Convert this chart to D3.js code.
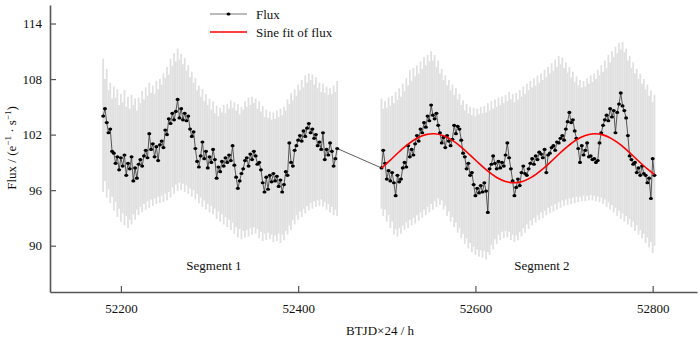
<!DOCTYPE html>
<html>
<head>
<meta charset="utf-8">
<script src="https://cdn.jsdelivr.net/npm/d3@7"></script>
<style>
  body { margin: 0; background: #fff; }
  svg text { font-family: "Liberation Serif", "DejaVu Serif", "Times New Roman", serif; fill: #111; }
</style>
</head>
<body>
<div id="chart"></div>
<script>
// sampling of the binned flux (hours, BTJD x 24)
const seg1Start = 52180, seg2Start = 52494, stepH = 2;

const seg1Flux = [104.0,104.8,103.3,102.2,102.6,100.2,100.0,98.9,99.6,98.2,99.5,98.6,99.8,97.6,98.9,98.3,99.6,97.0,98.4,97.3,
  98.8,99.3,98.6,99.7,100.3,99.5,102.1,100.4,101.0,99.6,100.7,99.2,100.9,101.3,100.6,102.5,102.0,103.7,103.2,104.3,
  103.6,104.5,105.8,103.8,104.8,103.6,104.3,103.5,104.0,102.6,101.8,102.3,100.5,99.1,98.5,99.7,101.2,99.4,100.2,98.4,
  99.6,99.0,100.4,99.3,97.3,98.5,98.0,99.1,98.6,99.5,99.0,99.8,99.2,100.8,98.7,97.4,96.2,97.0,97.8,98.3,
  99.2,99.5,98.6,99.9,99.3,100.2,99.7,98.8,99.0,98.2,96.8,95.8,97.4,96.1,97.6,96.9,97.8,97.0,97.5,96.4,
  97.1,95.8,96.6,98.0,97.6,101.1,99.0,98.6,100.3,100.8,101.4,101.9,101.3,102.4,101.8,102.7,103.2,102.2,102.6,101.6,
  102.0,100.8,101.2,100.4,102.2,99.3,100.4,99.8,101.1,100.2,98.6,99.4,100.5];

const seg2Flux = [98.4,100.3,98.9,97.2,98.1,97.0,97.9,96.8,95.4,97.6,96.9,97.2,98.4,99.0,98.5,100.8,99.6,100.4,99.8,101.0,
  101.9,101.3,102.6,102.2,103.3,102.8,104.0,103.5,105.2,104.1,103.7,104.3,103.0,102.2,101.1,101.7,100.6,101.9,101.3,100.8,
  101.5,103.0,102.1,102.9,102.6,101.4,100.0,99.6,98.3,98.9,97.6,97.9,96.6,95.4,96.2,95.7,96.5,95.8,96.8,95.9,
  93.6,98.3,98.8,99.7,98.9,98.3,99.1,98.4,99.0,98.6,99.8,101.1,99.5,98.3,97.0,95.4,96.3,97.2,96.5,97.9,
  98.6,97.8,97.6,98.3,98.9,99.4,98.8,99.7,99.3,100.1,99.9,99.5,100.4,97.9,99.8,100.0,100.6,100.8,100.3,101.2,
  101.1,101.6,101.9,101.4,102.6,103.4,104.4,103.3,103.6,102.4,101.6,100.5,99.0,100.8,99.8,100.3,101.1,99.6,99.7,99.3,
  99.4,99.0,99.2,101.1,102.2,103.0,103.6,104.1,103.5,104.8,103.9,104.6,102.2,104.4,105.3,106.5,105.1,104.6,103.8,101.9,
  99.7,99.3,98.8,99.0,97.9,98.4,97.6,98.6,97.8,97.6,96.8,97.3,95.1,99.4,97.6];

// light grey spread of the un-binned flux at each sample
const seg1Hi = [110.2,108.0,109.1,106.8,107.6,105.9,107.2,106.0,106.9,105.2,106.4,105.5,106.8,105.0,106.1,104.8,106.3,105.2,105.9,104.6,
  106.0,105.4,106.7,105.8,107.1,106.2,107.6,106.5,107.3,106.4,107.8,106.9,108.0,107.4,108.6,108.1,109.3,108.5,110.2,109.4,
  110.8,109.9,111.3,110.1,110.7,109.6,110.3,108.9,109.5,108.2,108.8,107.6,108.1,106.8,107.3,106.1,106.9,105.6,106.4,105.2,
  105.9,104.7,105.6,104.3,105.1,104.0,104.9,104.4,105.2,104.3,105.3,104.8,105.7,104.9,105.5,104.6,105.3,104.2,105.0,104.7,
  105.6,105.0,106.0,105.2,106.1,105.4,105.9,104.8,105.6,104.5,105.1,103.9,104.7,103.8,104.5,103.6,104.4,103.7,104.6,103.9,
  104.8,104.1,105.0,104.6,105.8,105.3,106.5,105.7,106.9,106.2,107.4,106.8,107.9,107.1,108.4,107.6,108.6,107.9,108.5,107.4,
  108.2,107.0,107.6,106.6,107.5,106.5,107.2,106.3,107.0,106.4,107.3,106.6,107.8];

const seg1Lo = [95.8,97.0,95.2,96.1,94.6,95.3,93.8,94.7,93.1,94.0,92.6,93.5,92.2,93.2,91.9,92.8,92.3,93.4,92.8,93.9,
  93.3,94.2,93.6,94.5,93.9,94.8,94.1,95.0,94.3,95.1,94.5,95.3,94.6,95.4,94.7,95.6,94.9,95.8,95.2,96.3,
  95.6,96.6,95.9,96.8,96.0,96.7,95.8,96.5,95.6,96.2,95.3,96.0,95.0,95.6,94.6,95.2,94.2,94.9,93.9,94.5,
  93.6,94.3,93.4,94.0,92.9,93.7,92.6,93.4,92.3,93.1,92.0,92.8,91.7,92.5,91.3,92.0,90.9,91.8,90.7,91.6,
  90.9,91.7,91.0,91.9,91.2,92.0,91.3,91.8,90.8,91.5,90.5,91.3,90.6,91.4,90.7,91.2,90.4,91.1,90.5,91.3,
  90.3,91.2,90.6,91.6,91.2,92.2,91.7,92.8,92.3,93.3,92.8,93.7,93.1,94.0,93.5,94.3,93.8,94.6,94.0,94.8,
  94.2,94.9,94.3,95.0,94.2,94.7,93.9,94.5,93.6,94.2,93.3,93.9,93.2];

const seg2Hi = [105.9,104.8,105.6,104.9,106.0,105.1,106.2,105.4,106.6,105.8,107.0,106.1,107.5,106.7,108.1,107.3,109.0,107.8,109.2,108.3,
  109.5,108.6,109.9,109.1,110.4,109.5,110.6,109.9,111.0,110.0,110.6,109.3,110.0,108.6,109.1,107.9,108.4,107.3,107.9,106.8,
  107.4,106.3,107.0,105.8,106.4,105.2,105.7,104.6,105.3,104.3,105.0,104.1,104.9,104.0,104.8,104.2,105.0,104.3,105.1,104.4,
  105.4,104.6,105.6,104.8,105.8,105.0,106.0,105.2,106.1,105.4,106.3,105.6,106.6,105.8,106.4,105.5,106.5,105.8,106.8,106.1,
  107.2,106.4,107.5,106.8,107.8,107.1,108.1,107.3,108.4,107.6,108.6,107.9,109.0,108.2,109.3,108.6,109.7,108.9,110.1,109.3,
  110.5,109.6,110.3,109.2,109.8,108.7,109.3,108.2,108.8,107.7,108.3,107.3,107.9,107.1,107.8,107.2,108.1,107.5,108.4,107.7,
  108.6,108.0,109.0,108.4,109.5,108.8,110.0,109.2,110.6,109.8,111.0,110.4,111.5,110.8,111.9,111.2,112.0,110.9,111.3,110.0,
  110.5,109.2,109.8,108.6,109.1,108.0,108.6,107.5,108.0,106.9,107.4,106.2,106.8,105.5,106.3];

const seg2Lo = [94.0,93.2,93.9,92.6,93.3,91.9,92.6,91.2,91.8,91.0,91.9,91.3,92.2,91.7,92.5,91.9,92.8,92.2,93.0,92.4,
  93.3,92.7,93.6,93.0,93.9,93.3,94.2,93.6,94.5,93.9,94.8,94.2,95.1,94.4,94.9,93.9,94.3,93.2,93.7,92.6,
  93.1,92.0,92.5,91.4,91.9,90.8,91.3,90.2,90.8,89.7,90.3,89.3,89.9,89.0,89.6,88.8,89.5,88.7,89.4,88.5,
  89.3,89.0,90.1,89.6,90.7,90.2,91.2,90.6,91.5,90.8,91.6,90.9,91.5,90.6,91.2,90.4,91.1,90.6,91.5,91.0,
  91.9,91.4,92.3,91.8,92.7,92.2,93.0,92.5,93.3,92.8,93.6,93.0,93.8,93.3,94.1,93.5,94.3,93.7,94.5,93.9,
  94.7,94.1,94.9,94.3,95.0,94.4,95.1,94.5,95.2,94.6,95.3,94.7,95.3,94.8,95.4,94.8,95.4,94.9,95.5,94.9,
  95.4,94.8,95.3,94.7,95.2,94.5,95.0,94.2,94.7,93.9,94.4,93.6,94.1,93.2,93.8,92.9,93.5,92.6,93.2,92.3,
  92.9,92.0,92.6,91.6,92.2,91.2,91.7,90.8,91.3,90.3,90.9,89.8,90.4,89.2,90.0];

// sine fit
const fitTime = [52494,52504,52514,52524,52534,52544,52554,52564,52574,52584,52594,52604,52614,52624,52634,52644,
  52654,52664,52674,52684,52694,52704,52714,52724,52734,52744,52754,52764,52774,52784,52794,52802];
const fitFlux = [98.37,99.25,100.15,100.97,101.61,102.0,102.09,101.88,101.38,100.66,99.79,98.89,98.05,97.37,96.94,96.8,
  96.97,97.43,98.13,98.97,99.88,100.72,101.44,101.91,102.1,101.97,101.54,100.88,100.05,99.15,98.29,97.68];

const xTicks = [52200, 52400, 52600, 52800];
const yTicks = [90, 96, 102, 108, 114];
const segmentLabels = [{ name: "Segment 1", t: 52305 }, { name: "Segment 2", t: 52675 }];

const width = 700, height = 341;
const margin = { top: 5, right: 3, bottom: 49, left: 50 };
const serif = "'Liberation Serif', 'DejaVu Serif', serif";

const svg = d3.select("#chart").append("svg")
  .attr("width", width).attr("height", height);

const x = d3.scaleLinear().domain([52120, 52850]).range([margin.left, width - margin.right]);
const y = d3.scaleLinear().domain([85, 116]).range([height - margin.bottom, margin.top]);

function toPoints(start, flux, hi, lo) {
  return flux.map((v, i) => ({ t: start + i * stepH, v: v, hi: hi[i], lo: lo[i] }));
}
const seg1 = toPoints(seg1Start, seg1Flux, seg1Hi, seg1Lo);
const seg2 = toPoints(seg2Start, seg2Flux, seg2Hi, seg2Lo);
const all = seg1.concat(seg2);

// grey spread
svg.append("g")
  .selectAll("line")
  .data(all.filter(d => d.hi != null))
  .join("line")
  .attr("x1", d => x(d.t)).attr("x2", d => x(d.t))
  .attr("y1", d => y(d.lo)).attr("y2", d => y(d.hi))
  .attr("stroke", "#e0e0e0")
  .attr("stroke-width", 1.8);

// flux line + dots
const line = d3.line().x(d => x(d.t)).y(d => y(d.v));
svg.append("path")
  .datum(all)
  .attr("fill", "none")
  .attr("stroke", "#333")
  .attr("stroke-width", 0.8)
  .attr("d", line);

svg.append("g")
  .selectAll("ellipse")
  .data(all)
  .join("ellipse")
  .attr("cx", d => x(d.t))
  .attr("cy", d => y(d.v))
  .attr("rx", 2).attr("ry", 1.6)
  .attr("fill", "#000");

// sine fit
const fit = fitTime.map((t, i) => ({ t: t, v: fitFlux[i] }));
svg.append("path")
  .datum(fit)
  .attr("fill", "none")
  .attr("stroke", "#ff0000")
  .attr("stroke-width", 1.6)
  .attr("d", d3.line().x(d => x(d.t)).y(d => y(d.v)).curve(d3.curveCatmullRom));

// axes
const axisColor = "#555";
const xAxis = svg.append("g")
  .attr("transform", `translate(0,${height - margin.bottom})`)
  .call(d3.axisBottom(x).tickValues(xTicks).tickFormat(d3.format("d"))
    .tickSizeInner(-6).tickSizeOuter(0).tickPadding(12));
const yAxis = svg.append("g")
  .attr("transform", `translate(${margin.left},0)`)
  .call(d3.axisLeft(y).tickValues(yTicks).tickFormat(d3.format("d"))
    .tickSizeInner(-6).tickSizeOuter(0).tickPadding(8));

[xAxis, yAxis].forEach(g => {
  g.attr("font-family", serif).attr("font-size", 13);
  g.select(".domain").attr("stroke", axisColor).attr("stroke-width", 1.6);
  g.selectAll(".tick line").attr("stroke", axisColor).attr("stroke-width", 1.2);
  g.selectAll(".tick text").attr("fill", "#111");
});

// segment labels
svg.selectAll(".seg")
  .data(segmentLabels)
  .join("text")
  .attr("class", "seg")
  .attr("x", d => x(d.t))
  .attr("y", 270)
  .attr("text-anchor", "middle")
  .attr("font-size", 13)
  .text(d => d.name);

// axis titles
svg.append("text")
  .attr("x", 380)
  .attr("y", 335)
  .attr("text-anchor", "middle")
  .attr("font-size", 13)
  .text("BTJD×24 / h");

const yl = svg.append("text")
  .attr("transform", "rotate(-90)")
  .attr("x", -148)
  .attr("y", 16)
  .attr("text-anchor", "middle")
  .attr("font-size", 13);
yl.append("tspan").text("Flux / (e");
yl.append("tspan").attr("font-size", 9).attr("baseline-shift", "super").text("−1");
yl.append("tspan").text(" · s");
yl.append("tspan").attr("font-size", 9).attr("baseline-shift", "super").text("−1");
yl.append("tspan").text(")");

// legend
const legend = svg.append("g").attr("transform", "translate(210,14)");
legend.append("line").attr("x1", 0).attr("x2", 37).attr("y1", 0).attr("y2", 0)
  .attr("stroke", "#777").attr("stroke-width", 1);
legend.append("ellipse").attr("cx", 18.5).attr("cy", 0).attr("rx", 2).attr("ry", 1.6).attr("fill", "#000");
legend.append("text").attr("x", 46).attr("y", 0).attr("dy", "0.35em").attr("font-size", 13).text("Flux");
legend.append("line").attr("x1", 0).attr("x2", 37).attr("y1", 18).attr("y2", 18)
  .attr("stroke", "#ff0000").attr("stroke-width", 1.6);
legend.append("text").attr("x", 46).attr("y", 18).attr("dy", "0.35em").attr("font-size", 13).text("Sine fit of flux");
</script>
</body>
</html>
